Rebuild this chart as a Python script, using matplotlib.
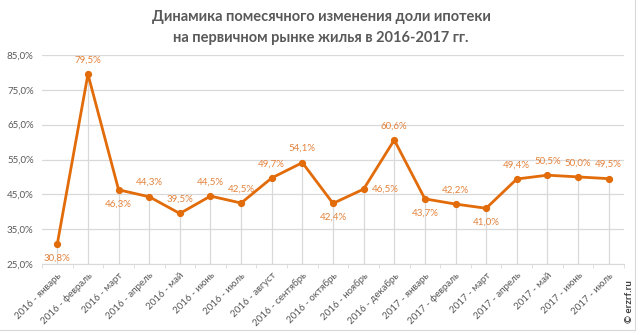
import matplotlib
matplotlib.use("Agg")
import matplotlib.pyplot as plt
import numpy as np

# доля ипотеки на первичном рынке, %
months = ["2016 - январь", "2016 - февраль", "2016 - март", "2016 - апрель",
          "2016 - май", "2016 - июнь", "2016 - июль", "2016 - август",
          "2016 - сентябрь", "2016 - октябрь", "2016 - ноябрь", "2016 - декабрь",
          "2017 - январь", "2017 - февраль", "2017 - март", "2017 - апрель",
          "2017 - май", "2017 - июнь", "2017 - июль"]
share = [30.8, 79.5, 46.3, 44.3, 39.5, 44.5, 42.5, 49.7, 54.1, 42.4,
         46.5, 60.6, 43.7, 42.2, 41.0, 49.4, 50.5, 50.0, 49.5]
# где ставить подпись относительно точки
label_pos = ["below", "above", "below", "above", "above", "above", "above",
             "above", "above", "below", "right", "above", "below", "above",
             "below", "above", "above", "above", "above"]
yticks = [25, 35, 45, 55, 65, 75, 85]

plt.rcParams['font.family'] = ['Lato', 'DejaVu Sans']

ORANGE = '#E26B0A'
LABEL = '#E3823C'
GRID = '#D9D9D9'
TEXT = '#595959'

fig = plt.figure(figsize=(6.42, 3.35), dpi=100)
ax = fig.add_axes([42 / 642, 1 - 264 / 335, (624 - 42) / 642, (264 - 55) / 335])

x = np.arange(len(share))
ax.set_xlim(-0.5, len(share) - 0.5)
ax.set_ylim(25, 85)

for y in yticks:
    ax.axhline(y, color=GRID, lw=0.9, zorder=0)
ax.vlines(x, 25, share, color=GRID, lw=0.9, zorder=1)

ax.plot(x, share, color=ORANGE, lw=2.0, marker='o', ms=4.2, zorder=3)

for xi, v, pos in zip(x, share, label_pos):
    txt = f"{v:.1f}%".replace('.', ',')
    if pos == "above":
        ax.annotate(txt, (xi, v), xytext=(0, 7), textcoords='offset points',
                    ha='center', va='bottom', color=LABEL, fontsize=7)
    elif pos == "below":
        ax.annotate(txt, (xi, v), xytext=(0, -7), textcoords='offset points',
                    ha='center', va='top', color=LABEL, fontsize=7)
    else:
        ax.annotate(txt, (xi, v), xytext=(6, 0), textcoords='offset points',
                    ha='left', va='center', color=LABEL, fontsize=7)

ax.set_yticks(yticks)
ax.set_yticklabels([f"{t:.1f}%".replace('.', ',') for t in yticks],
                   color=TEXT, fontsize=7)
ax.tick_params(axis='y', length=0, pad=6)

ax.set_xticks(x)
ax.set_xticklabels(months, rotation=45, ha='right', rotation_mode='anchor',
                   color=TEXT, fontsize=7)
ax.tick_params(axis='x', length=0, pad=5)
ax.set_xticks(np.arange(len(share) + 1) - 0.5, minor=True)
ax.tick_params(axis='x', which='minor', length=3, color=GRID)

for side in ['top', 'right', 'left']:
    ax.spines[side].set_visible(False)
ax.spines['bottom'].set_color(GRID)

fig.text(0.5, 1 - 17 / 335, "Динамика помесячного изменения доли ипотеки",
         ha='center', va='center', fontsize=10.5, fontweight='bold', color='#595959')
fig.text(0.5, 1 - 38 / 335, "на первичном рынке жилья в 2016-2017 гг.",
         ha='center', va='center', fontsize=10.5, fontweight='bold', color='#595959')

# рамка области диаграммы
fig.add_artist(plt.Line2D([0, 635 / 642], [1 - 330 / 335] * 2,
                          color=GRID, lw=0.8, transform=fig.transFigure))
fig.add_artist(plt.Line2D([635 / 642] * 2, [1 - 330 / 335, 1],
                          color=GRID, lw=0.8, transform=fig.transFigure))

fig.text(629 / 642, 1 - 302 / 335, "© erzrf.ru", rotation=90, ha='center',
         va='center', fontsize=7, fontweight='bold', color='#404040')

fig.savefig("out.png", dpi=100)
